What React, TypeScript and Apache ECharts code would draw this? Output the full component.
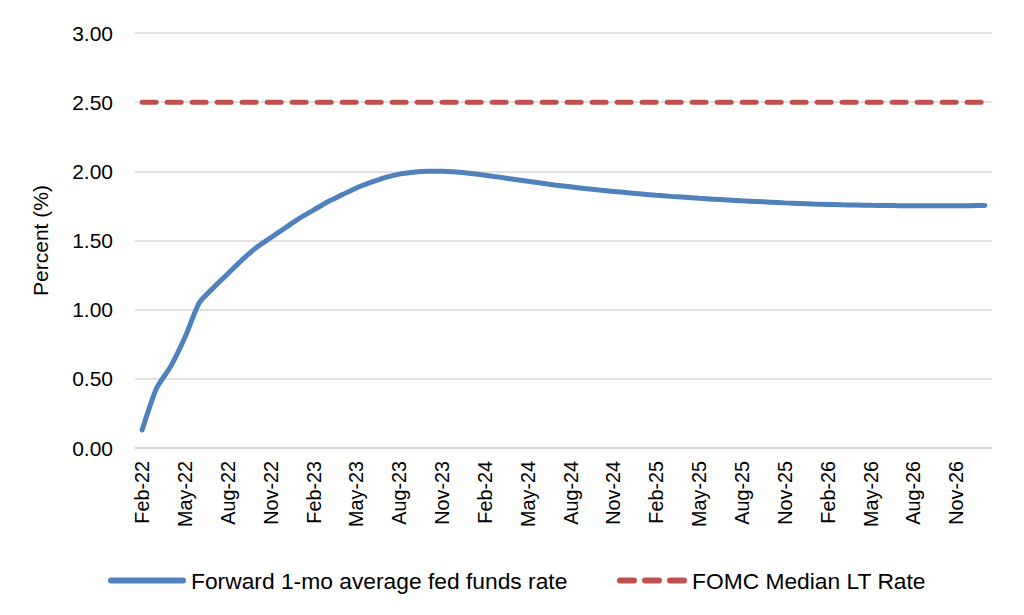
import React, { useEffect, useRef } from "react";
import * as echarts from "echarts";

const MONTHS = ["Jan", "Feb", "Mar", "Apr", "May", "Jun", "Jul", "Aug", "Sep", "Oct", "Nov", "Dec"];
const categories: string[] = [];
for (let y = 22; y <= 27; y++) {
  for (let m = 0; m < 12; m++) {
    if (y === 22 && m === 0) continue;
    if (y === 27 && m > 0) continue;
    categories.push(`${MONTHS[m]}-${y}`);
  }
}

const forwardRate = [
  0.13, 0.43, 0.59, 0.8, 1.05, 1.16, 1.26, 1.36, 1.45, 1.52, 1.59, 1.66,
  1.72, 1.78, 1.83, 1.88, 1.92, 1.955, 1.98, 1.993, 2.0, 2.0, 1.995, 1.985,
  1.972, 1.958, 1.943, 1.928, 1.914, 1.9, 1.888, 1.876, 1.865, 1.855, 1.845, 1.836,
  1.827, 1.819, 1.812, 1.805, 1.799, 1.793, 1.787, 1.782, 1.777, 1.772, 1.768, 1.764,
  1.761, 1.758, 1.756, 1.754, 1.753, 1.752, 1.751, 1.751, 1.751, 1.751, 1.752, 1.753,
];
const fomcRate = categories.map(() => 2.5);

const seriesNames = ["Forward 1-mo average fed funds rate", "FOMC Median LT Rate"];
const yTicks = { min: 0, max: 3, interval: 0.5 };

const dashIcon =
  "path://M3,0 h14 a3,3 0 0 1 0,6 h-14 a3,3 0 0 1 0,-6 z " +
  "M28,0 h14 a3,3 0 0 1 0,6 h-14 a3,3 0 0 1 0,-6 z " +
  "M53,0 h14 a3,3 0 0 1 0,6 h-14 a3,3 0 0 1 0,-6 z";
const solidIcon = "path://M3,0 h72 a3,3 0 0 1 0,6 h-72 a3,3 0 0 1 0,-6 z";

export default function App() {
  const ref = useRef<HTMLDivElement>(null);
  useEffect(() => {
    document.body.style.margin = "0";
    const chart = echarts.init(ref.current!, null, { renderer: "svg" });
    const font = "Liberation Sans, Arial, sans-serif";
    const legendText = { fontFamily: font, fontSize: 22.8, color: "#000" };
    chart.setOption({
      animation: false,
      grid: { left: 135, right: 32, top: 33, bottom: 167, containLabel: false },
      legend: [
        {
          top: 564,
          left: 103,
          itemWidth: 78,
          itemHeight: 6,
          textStyle: legendText,
          data: [{ name: seriesNames[0], icon: solidIcon }],
        },
        {
          top: 564,
          left: 612,
          itemWidth: 70,
          itemHeight: 6,
          textStyle: legendText,
          data: [{ name: seriesNames[1], icon: dashIcon }],
        },
      ],
      xAxis: {
        type: "category",
        data: categories,
        boundaryGap: true,
        axisLine: { lineStyle: { color: "#d9d9d9", width: 1.5 } },
        axisTick: { interval: 2, length: 7, lineStyle: { color: "#d9d9d9", width: 1.5 } },
        axisLabel: {
          interval: 2,
          rotate: 90,
          margin: 13,
          fontFamily: font,
          fontSize: 19.8,
          color: "#000",
        },
      },
      yAxis: {
        type: "value",
        min: yTicks.min,
        max: yTicks.max,
        interval: yTicks.interval,
        name: "Percent (%)",
        nameLocation: "middle",
        nameGap: 84,
        nameTextStyle: { fontFamily: font, fontSize: 21, color: "#000" },
        axisLine: { show: false },
        axisTick: { show: false },
        splitLine: { lineStyle: { color: "#d9d9d9", width: 1.5 } },
        axisLabel: {
          margin: 22,
          fontFamily: font,
          fontSize: 21,
          color: "#000",
          formatter: (v: number) => v.toFixed(2),
        },
      },
      series: [
        {
          name: seriesNames[0],
          type: "line",
          data: forwardRate,
          symbol: "none",
          smooth: 0.2,
          lineStyle: { color: "#4F81BD", width: 5, cap: "round" },
          itemStyle: { color: "#4F81BD" },
        },
        {
          name: seriesNames[1],
          type: "line",
          data: fomcRate,
          symbol: "none",
          lineStyle: { color: "#C0504D", width: 5, type: [14, 11], cap: "round" },
          itemStyle: { color: "#C0504D" },
        },
      ],
    });
    return () => chart.dispose();
  }, []);
  return <div ref={ref} style={{ width: 1024, height: 615 }} />;
}
